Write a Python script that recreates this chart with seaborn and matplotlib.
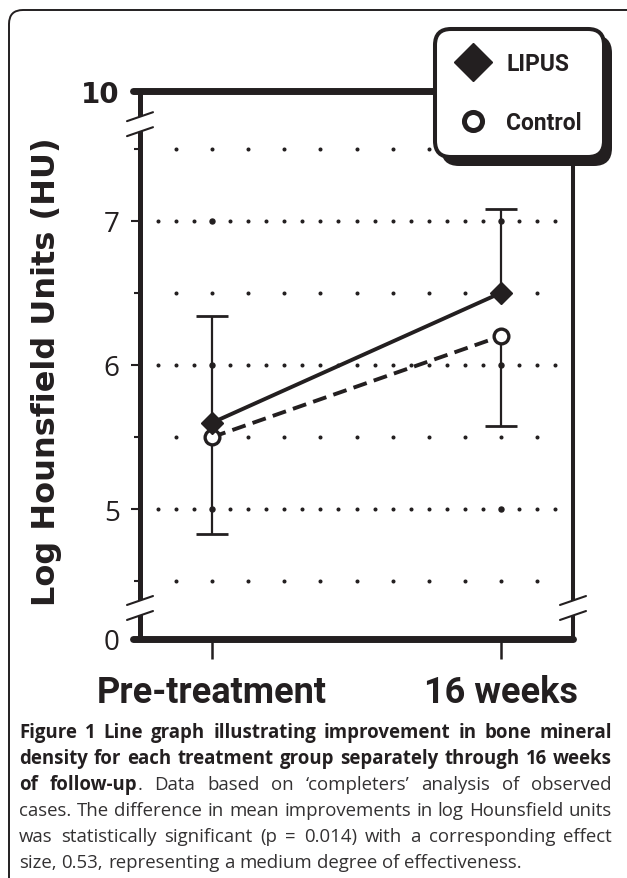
import numpy as np
import pandas as pd
import matplotlib
matplotlib.use("Agg")
import matplotlib.pyplot as plt
import seaborn as sns
from matplotlib.lines import Line2D
from matplotlib.patches import FancyBboxPatch, Polygon
from matplotlib.transforms import IdentityTransform, blended_transform_factory


# ==============================
# 1. Data
# ==============================

timepoints = ["Pre-treatment", "16 weeks"]
groups = ["LIPUS", "Control"]

lipus_mean = [5.6, 6.5]
lipus_err_up = [0.74, 0.58]        # upper bar only
control_mean = [5.5, 6.2]
control_err_down = [0.67, 0.62]    # lower bar only

# broken axis: 0 and 10 are drawn at the ends of the 4.5-7.5 window
ytick_pos = [4.1, 5, 6, 7, 7.9]
ytick_labels = ["0", "5", "6", "7", "10"]
minor_pos = [4.5, 5.5, 6.5, 7.5]
break_pos = [4.315, 7.67]

caption_lines = [
    [("Figure 1 Line graph illustrating improvement in bone mineral", "bold")],
    [("density for each treatment group separately through 16 weeks", "bold")],
    [("of follow-up", "bold"), (". Data based on \u2018completers\u2019 analysis of observed", "normal")],
    [("cases. The difference in mean improvements in log Hounsfield units", "normal")],
    [("was statistically significant (p = 0.014) with a corresponding effect", "normal")],
    [("size, 0.53, representing a medium degree of effectiveness.", "normal")],
]


# ==============================
# 2. Style
# ==============================

INK = "#231f20"
W, H, DPI = 627, 879, 100
COND = "Roboto"

sns.set_theme(style="white")
plt.rcParams["font.family"] = ["DejaVu Sans"]

fig = plt.figure(figsize=(W / DPI, H / DPI), dpi=DPI, facecolor="white")
ax = fig.add_axes([140 / W, 1 - 640 / H, 433 / W, 548 / H])
ax.set_xlim(-0.25, 1.25)
ax.set_ylim(ytick_pos[0], ytick_pos[-1])
for s in ax.spines.values():
    s.set_visible(False)


# ==============================
# 3. Dotted grid
# ==============================

x_pos = np.arange(len(timepoints))
major_x = np.arange(-3, 20) / 16
minor_x = np.arange(-2, 19, 2) / 16
for yv in ytick_pos[1:-1]:
    ax.plot(major_x, np.full(len(major_x), yv), "o", ms=1.9, color=INK, zorder=1)
    ax.plot(x_pos, np.full(len(x_pos), yv), "o", ms=3.6, color=INK, zorder=1)
for yv in minor_pos:
    ax.plot(minor_x, np.full(len(minor_x), yv), "o", ms=1.9, color=INK, zorder=1)


# ==============================
# 4. Lines, error bars, markers
# ==============================

df = pd.DataFrame({
    "x": np.concatenate([x_pos, x_pos]),
    "value": lipus_mean + control_mean,
    "group": [groups[0]] * len(x_pos) + [groups[1]] * len(x_pos),
})
sns.lineplot(data=df, x="x", y="value", style="group", sort=False,
             dashes={"LIPUS": "", "Control": (3.6, 1.9)},
             color=INK, linewidth=2.8, legend=False, ax=ax, zorder=3)

lipus_top = np.add(lipus_mean, lipus_err_up)
control_bot = np.subtract(control_mean, control_err_down)
ax.vlines(x_pos, lipus_mean, lipus_top, color=INK, lw=1.6, zorder=2)
ax.vlines(x_pos, control_bot, control_mean, color=INK, lw=1.6, zorder=2)
ax.plot(x_pos, lipus_top, ls="none", marker="_", ms=22.5, mew=2.0, color=INK, zorder=2)
ax.plot(x_pos, control_bot, ls="none", marker="_", ms=22.5, mew=2.0, color=INK, zorder=2)

ax.plot(x_pos, control_mean, ls="none", marker="o", ms=10.6, mfc="white",
        mec=INK, mew=2.4, zorder=4)
ax.plot(x_pos, lipus_mean, ls="none", marker="D", ms=11.2, color=INK, zorder=5)


# ==============================
# 5. Axis frame, breaks, ticks
# ==============================

tA = ax.transAxes
ax.plot([0, 0], [0, 1], transform=tA, lw=3.6, color=INK, clip_on=False, zorder=6,
        solid_capstyle="butt")
ax.plot([1, 1], [0, 1], transform=tA, lw=2.9, color=INK, clip_on=False, zorder=6,
        solid_capstyle="butt")
for yv in (0, 1):
    ax.plot([-0.017, 1.0], [yv, yv], transform=tA, lw=5, color=INK, clip_on=False,
            zorder=7, solid_capstyle="round")

mix = blended_transform_factory(ax.transAxes, ax.transData)
hw, rise, gap = 0.03, 0.031, 0.052
for xs in (0, 1):
    for yc in break_pos:
        quad = [(xs - hw, yc - gap - rise), (xs + hw, yc - gap + rise),
                (xs + hw, yc + gap + rise), (xs - hw, yc + gap - rise)]
        ax.add_patch(Polygon(quad, closed=True, transform=mix, fc="white", ec="none",
                             clip_on=False, zorder=6.5))
        for sgn in (-1, 1):
            ax.plot([xs - hw, xs + hw], [yc + sgn * gap - rise, yc + sgn * gap + rise],
                    transform=mix, lw=1.5, color=INK, clip_on=False, zorder=6.6)

ax.set_yticks(ytick_pos)
ax.set_yticklabels(ytick_labels, fontsize=20, family="Open Sans", color=INK)
ax.get_yticklabels()[-1].set_fontweight("bold")
ax.get_yticklabels()[-1].set_family("DejaVu Sans")
ax.set_yticks(minor_pos, minor=True)
ax.tick_params(axis="y", which="major", left=True, direction="out", length=6.5,
               width=1.5, pad=8, color=INK)
ax.tick_params(axis="y", which="minor", left=True, direction="out", length=4.3,
               width=1.5, color=INK)

ax.set_xticks(x_pos)
ax.set_xticklabels(timepoints, fontsize=26, family=COND, fontweight="bold", color=INK)
ax.tick_params(axis="x", bottom=True, direction="out", length=14.4, width=1.8,
               pad=10.5, color=INK)
ax.set_xlabel("")

ax.set_ylabel("Log Hounsfield Units (HU)", fontsize=23, fontweight="bold",
              family="DejaVu Sans", color=INK)
ax.yaxis.set_label_coords(-0.18, 0.489)


# ==============================
# 6. Outer frame and legend box
# ==============================

px = IdentityTransform()
fig.add_artist(FancyBboxPatch((9, H - 915), 651, 904, boxstyle="round,pad=0,rounding_size=14",
                              transform=px, fill=False, ec=INK, lw=1.4, zorder=0))
fig.add_artist(FancyBboxPatch((441, H - 167), 171, 131, boxstyle="round,pad=0,rounding_size=18",
                              transform=px, fc=INK, ec="none", zorder=8))
fig.add_artist(FancyBboxPatch((435, H - 158), 169, 128, boxstyle="round,pad=0,rounding_size=16",
                              transform=px, fc="white", ec=INK, lw=2.9, zorder=9))

handles = [
    Line2D([], [], ls="none", marker="D", ms=19, color=INK),
    Line2D([], [], ls="none", marker="o", ms=13, mfc="white", mec=INK, mew=3.6),
]
leg = fig.legend(handles, groups, loc="center left", bbox_to_anchor=(458 / W, 1 - 94 / H),
                 frameon=False, borderpad=0, borderaxespad=0, handlelength=1.35,
                 handletextpad=0.75, labelspacing=1.55,
                 prop={"family": COND, "weight": "bold", "size": 16.5})
leg.set_zorder(10)
for t in leg.get_texts():
    t.set_color(INK)


# ==============================
# 7. Justified caption
# ==============================

renderer = fig.canvas.get_renderer()
cap_font = "Open Sans"
x_left, x_right = 19, 612


def split_words(chunks):
    words = []
    for txt, wt in chunks:
        for i, p in enumerate(txt.split(" ")):
            if p == "":
                continue
            if i == 0 and words and not txt.startswith(" "):
                words[-1].append((p, wt))
            else:
                words.append([(p, wt)])
    return words


def text_width(s, wt, size):
    t = fig.text(0, 0, s, fontsize=size, fontweight=wt, family=cap_font)
    w = t.get_window_extent(renderer).width
    t.remove()
    return w


def natural_width(chunks, size):
    words = split_words(chunks)
    sp = text_width("a a", "normal", size) - text_width("aa", "normal", size)
    return sum(text_width(p, wt, size) for wd in words for p, wt in wd) + sp * (len(words) - 1)


# shrink the caption size until every justified line fits the text block
base = 13.5
fit = min((x_right - x_left) / natural_width(c, base) for c in caption_lines[:-1])
cap_size = base * min(1.0, fit) * 0.995
space_w = text_width("a a", "normal", cap_size) - text_width("aa", "normal", cap_size)


def place_line(chunks, y_base, justify):
    rows, widths = [], []
    for word in split_words(chunks):
        row = []
        for p, wt in word:
            t = fig.text(0, H - y_base, p, transform=px, fontsize=cap_size,
                         fontweight=wt, family=cap_font,
                         color=INK if wt == "bold" else "#333132",
                         ha="left", va="baseline")
            row.append((t, t.get_window_extent(renderer).width))
        rows.append(row)
        widths.append(sum(w for _, w in row))
    step = (x_right - x_left - sum(widths)) / (len(rows) - 1) if justify else space_w
    x = x_left
    for row, w in zip(rows, widths):
        xc = x
        for t, tw in row:
            t.set_x(xc)
            xc += tw
        x += w + step


for i, chunks in enumerate(caption_lines):
    place_line(chunks, 738 + 26 * i, justify=i < len(caption_lines) - 1)

fig.savefig("out.png", dpi=DPI, facecolor="white")
